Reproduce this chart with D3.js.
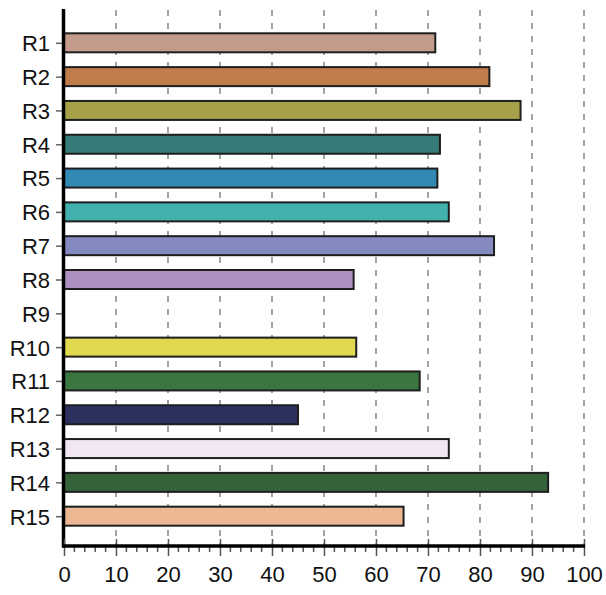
<!DOCTYPE html>
<html><head><meta charset="utf-8">
<script src="https://cdn.jsdelivr.net/npm/d3@7"></script>
<style>body{margin:0;background:#fff;}svg{display:block;}</style>
</head><body>
<svg id="chart" width="606" height="595"></svg>
<script>
const categories = ["R1","R2","R3","R4","R5","R6","R7","R8","R9","R10","R11","R12","R13","R14","R15"];
const values = [71.4, 81.8, 87.8, 72.3, 71.8, 74.0, 82.7, 55.7, null, 56.2, 68.4, 45.0, 74.0, 93.1, 65.3];
const colors = ["#c49a8c","#c07d4a","#a6a048","#357b77","#3189b4","#42b0ac","#8489c0","#ae90c0","#ffffff","#e0d84e","#3a7640","#2c3160","#f1e6f2","#34633a","#ebb893"];
const xTicks = [0,10,20,30,40,50,60,70,80,90,100];
const minorTicks = d3.range(0, 101, 2);

(function(){
const svg = d3.select("#chart");
const mLeft = 64, mRight = 584, mTop = 9, axisY = 546;
const x = d3.scaleLinear().domain([0,100]).range([mLeft,mRight]);
const y = d3.scalePoint().domain(categories).range([mTop, 550]).padding(1);
const barH = 19;
const font = "'Liberation Sans', Arial, sans-serif";

// grid
svg.append("g").selectAll("line").data(xTicks.slice(1)).join("line")
  .attr("x1", d=>x(d)).attr("x2", d=>x(d)).attr("y1", mTop+1).attr("y2", axisY)
  .attr("stroke", "#8c8c8c").attr("stroke-width", 1.6).attr("stroke-dasharray", "6,7");

// bars
const data = categories.map((c,i)=>({c, v: values[i], col: colors[i]})).filter(d=>d.v!=null);
svg.append("g").selectAll("rect").data(data).join("rect")
  .attr("x", x(0)).attr("y", d=>y(d.c)-barH/2)
  .attr("width", d=>x(d.v)-x(0)).attr("height", barH)
  .attr("fill", d=>d.col).attr("stroke", "#1e1e1e").attr("stroke-width", 2);

// y axis
const yAxis = svg.append("g").attr("transform", `translate(${mLeft-1},0)`)
  .call(d3.axisLeft(y).tickSize(7).tickPadding(6));
yAxis.select(".domain").remove();
yAxis.selectAll(".tick line").attr("stroke", "#666").attr("stroke-width", 1.5);
yAxis.selectAll(".tick text").attr("font-family", font).attr("font-size", 22).attr("fill", "#111").attr("dy", "0.36em");
svg.append("line").attr("x1", mLeft-0.5).attr("x2", mLeft-0.5).attr("y1", mTop).attr("y2", axisY+1.5)
  .attr("stroke", "#000").attr("stroke-width", 3.5);

// x axis minor ticks
svg.append("g").selectAll("line").data(minorTicks.filter(d=>d%10!==0)).join("line")
  .attr("x1", d=>x(d)).attr("x2", d=>x(d)).attr("y1", axisY).attr("y2", axisY+6)
  .attr("stroke", "#555").attr("stroke-width", 1.5);

const xAxis = svg.append("g").attr("transform", `translate(0,${axisY})`)
  .call(d3.axisBottom(x).tickValues(xTicks).tickSize(10).tickPadding(10));
xAxis.select(".domain").remove();
xAxis.selectAll(".tick line").attr("stroke", "#555").attr("stroke-width", 1.5).attr("y1", -7);
xAxis.selectAll(".tick text").attr("font-family", font).attr("font-size", 22).attr("fill", "#111");
svg.append("line").attr("x1", mLeft-2).attr("x2", mRight+1).attr("y1", axisY).attr("y2", axisY)
  .attr("stroke", "#000").attr("stroke-width", 3.5);
})();
</script>
</body></html>
